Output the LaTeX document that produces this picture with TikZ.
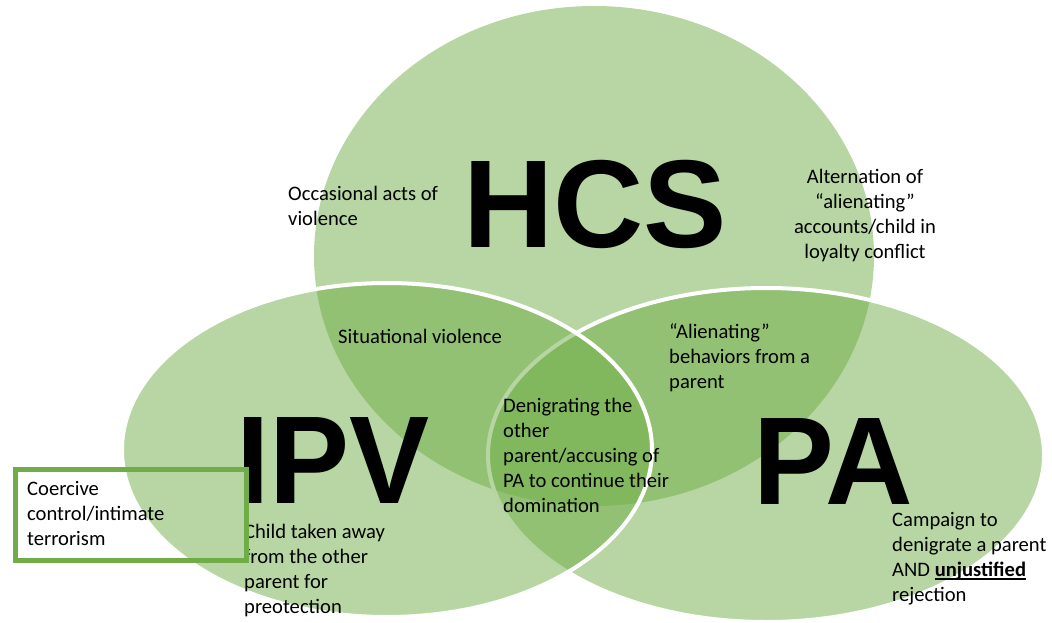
\documentclass[tikz,border=0pt]{standalone}
\usepackage{fontspec}
\setmainfont{Carlito}
\newfontfamily\arialfont{Liberation Sans}
\definecolor{vgreen}{HTML}{70AD47}
\newcommand\myul[1]{\setbox0\hbox{\textbf{#1}}\rlap{\rule[-3.5pt]{\wd0}{1.7pt}}\box0}
\tikzset{
  venn/.style={fill=vgreen, fill opacity=0.5},
  vennline/.style={venn, draw=white, draw opacity=1, line width=4pt},
  big/.style={font=\arialfont\bfseries\fontsize{125}{125}\selectfont, inner sep=0pt, anchor=base,
              text depth=0pt, text height=90pt},
  lbl/.style={font=\fontsize{20.6}{25}\selectfont, align=left, anchor=north west, inner sep=0pt},
  lblc/.style={lbl, align=center, anchor=north},
  callout/.style={draw=vgreen, line width=5pt, inner sep=0pt, anchor=north west,
                  minimum width=231pt, minimum height=91pt}
}
\begin{document}
\begin{tikzpicture}[x=1pt,y=-1pt]
\useasboundingbox (0,0) rectangle (1052,623);
% circles
\fill[venn] (594,256) ellipse [x radius=280pt, y radius=250pt];
\path[vennline] (766,455) ellipse [x radius=278pt, y radius=167pt];
\path[vennline] (387,450) ellipse [x radius=265pt, y radius=167pt];
% big labels
\node[big] (hcs) at (595,247) {HCS};
\node[big] (ipv) at (333,503) {\scalebox{0.96}[1]{IPV}};
\node[big] (pa) at (833,504) {\scalebox{0.97}[1]{PA}};
% texts
\node[lbl] (occ) at (288,182.5) {\strut Occasional acts of\\violence};
\node[lblc] (alt) at (865,165.5) {\strut Alternation of\\“alienating”\\accounts/child in\\loyalty conflict};
\node[lbl] (sit) at (338,325.5) {\strut Situational violence};
\node[lbl] (alien) at (669,320.5) {\strut “Alienating”\\behaviors from a\\parent};
\node[lbl] (deni) at (503,394.5) {\strut Denigrating the\\other\\parent/accusing of\\PA to continue their\\domination};
\node[lbl] (child) at (244,520.5) {\strut Child taken away\\from the other\\parent for\\preotection};
\node[lbl] (camp) at (892,508.5) {\strut Campaign to\\denigrate a parent\\AND \myul{unjustified}\\rejection};
% callout box
\node[callout] (coerbox) at (12.5,466.5) {};
\node[lbl] (coer) at (27,477.5) {\strut Coercive\\control/intimate\\terrorism};
\end{tikzpicture}
\end{document}
